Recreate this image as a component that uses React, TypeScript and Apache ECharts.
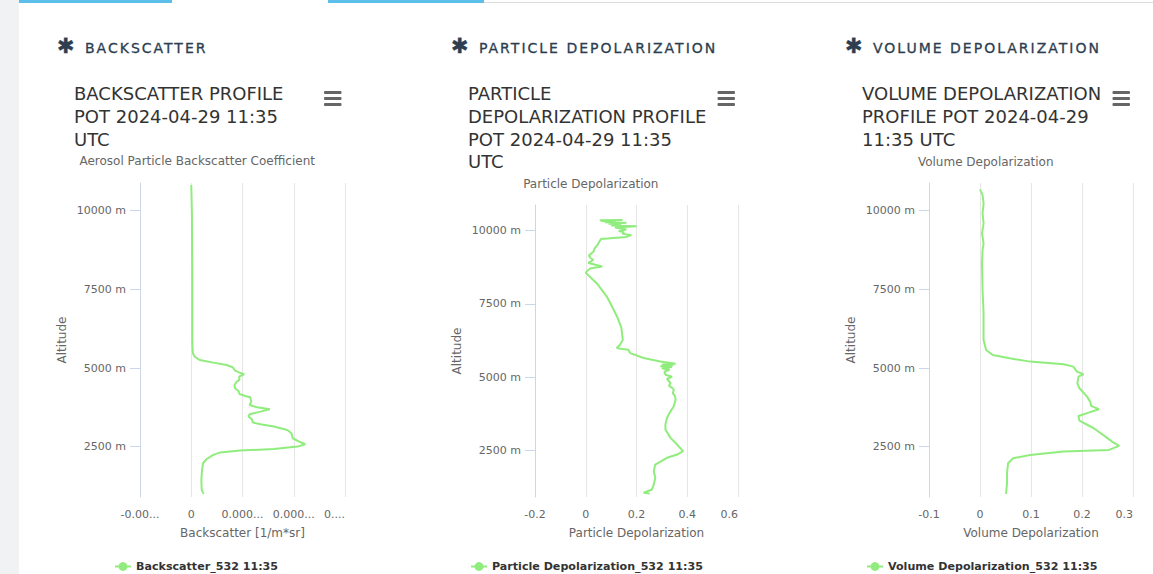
import React, { useEffect, useRef } from "react";
import * as echarts from "echarts";

// ---------- data ----------
const sectionHeaders = ["BACKSCATTER", "PARTICLE DEPOLARIZATION", "VOLUME DEPOLARIZATION"];
const chartTitles = [
  "BACKSCATTER PROFILE\nPOT 2024-04-29 11:35\nUTC",
  "PARTICLE\nDEPOLARIZATION PROFILE\nPOT 2024-04-29 11:35\nUTC",
  "VOLUME DEPOLARIZATION\nPROFILE POT 2024-04-29\n11:35 UTC",
];
const chartSubtitles = ["Aerosol Particle Backscatter Coefficient", "Particle Depolarization", "Volume Depolarization"];
const xAxisTitles = ["Backscatter [1/m*sr]", "Particle Depolarization", "Volume Depolarization"];
const seriesNames = ["Backscatter_532 11:35", "Particle Depolarization_532 11:35", "Volume Depolarization_532 11:35"];
const altitudeTicks = [2500, 5000, 7500, 10000];
const backscatterTickLabels = ["-0.00...", "0", "0.000...", "0.000...", "0...."];

const backscatterAlt = [10815, 9915, 7797, 5891, 5573, 5467, 5361, 5255, 5171, 5097, 5023, 4917, 4853, 4800, 4726, 4620, 4567, 4461, 4355, 4271, 4175, 4112, 4070, 3932, 3826, 3752, 3688, 3614, 3530, 3455, 3370, 3265, 3212, 3138, 3032, 2926, 2767, 2661, 2576, 2502, 2428, 2375, 2312, 2238, 2100, 1973, 1761, 1443, 1126, 1000];
const backscatterVal = [0.0e-6, 0.013e-6, 0.02e-6, 0.02e-6, 0.026e-6, 0.033e-6, 0.066e-6, 0.164e-6, 0.428e-6, 0.691e-6, 0.809e-6, 0.855e-6, 0.941e-6, 1.033e-6, 0.934e-6, 0.941e-6, 0.888e-6, 0.842e-6, 0.855e-6, 0.921e-6, 0.941e-6, 1.053e-6, 1.151e-6, 1.171e-6, 1.138e-6, 1.283e-6, 1.533e-6, 1.349e-6, 1.138e-6, 1.118e-6, 1.184e-6, 1.204e-6, 1.349e-6, 1.612e-6, 1.875e-6, 1.954e-6, 1.98e-6, 2.105e-6, 2.224e-6, 2.072e-6, 1.612e-6, 0.954e-6, 0.559e-6, 0.428e-6, 0.296e-6, 0.23e-6, 0.211e-6, 0.197e-6, 0.204e-6, 0.243e-6];

const particleAlt = [10360, 10370, 10330, 10320, 10290, 10270, 10240, 10220, 10180, 10150, 10110, 10080, 10040, 9990, 9960, 9900, 9850, 9790, 9720, 9650, 9500, 9400, 9280, 9150, 9060, 9000, 8900, 8780, 8720, 8660, 8560, 8200, 7750, 7300, 7070, 6700, 6500, 6270, 6103, 5990, 5960, 5932, 5819, 5649, 5533, 5455, 5430, 5400, 5370, 5340, 5300, 5250, 5180, 5080, 5010, 4933, 4796, 4700, 4650, 4568, 4450, 4350, 4227, 4100, 4000, 3828, 3603, 3374, 3204, 2921, 2692, 2464, 2351, 2239, 2010, 1782, 1557, 1328, 1158, 1045, 1021];
const particleVal = [0.055, 0.145, 0.06, 0.12, 0.075, 0.16, 0.09, 0.14, 0.1, 0.2, 0.115, 0.14, 0.16, 0.13, 0.15, 0.145, 0.18, 0.16, 0.06, 0.055, 0.045, 0.035, 0.03, 0.012, 0.02, 0.03, 0.01, 0.065, 0.02, 0.01, 0.0, 0.044, 0.083, 0.11, 0.123, 0.14, 0.143, 0.146, 0.135, 0.122, 0.145, 0.168, 0.175, 0.228, 0.294, 0.354, 0.3, 0.345, 0.294, 0.34, 0.3, 0.33, 0.31, 0.314, 0.34, 0.32, 0.334, 0.328, 0.338, 0.347, 0.343, 0.352, 0.354, 0.35, 0.347, 0.334, 0.32, 0.314, 0.314, 0.334, 0.36, 0.384, 0.36, 0.32, 0.274, 0.268, 0.274, 0.268, 0.261, 0.228, 0.252];

const volumeAlt = [10678, 10500, 10233, 9915, 9598, 9280, 8962, 8750, 8327, 7480, 6738, 5891, 5573, 5415, 5309, 5203, 5118, 5044, 4885, 4800, 4726, 4514, 4355, 4090, 3932, 3794, 3688, 3582, 3476, 3328, 3085, 2820, 2660, 2523, 2396, 2343, 2237, 2132, 1973, 1655, 1337, 1000];
const volumeVal = [0.0, 0.005, 0.007, 0.005, 0.007, 0.004, 0.007, 0.005, 0.004, 0.005, 0.007, 0.007, 0.012, 0.025, 0.058, 0.098, 0.164, 0.183, 0.19, 0.203, 0.193, 0.191, 0.195, 0.21, 0.216, 0.218, 0.233, 0.213, 0.193, 0.195, 0.223, 0.246, 0.259, 0.273, 0.253, 0.164, 0.098, 0.065, 0.055, 0.053, 0.053, 0.051];

// ---------- layout / style ----------
const FONT = '"DejaVu Sans", sans-serif';
const LINE_COLOR = "#90ed7d";
const grids = [
  { left: 140, top: 183, width: 205, height: 314 },
  { left: 535, top: 205, width: 203, height: 292 },
  { left: 929, top: 183, width: 204, height: 314 },
];
const xRanges = [
  { min: -1e-6, max: 3e-6, interval: 1e-6 },
  { min: -0.2, max: 0.6, interval: 0.2 },
  { min: -0.1, max: 0.3, interval: 0.1 },
];
const titleLefts = [74, 468, 862];
const subtitlePos = [
  { x: 197.2, y: 161 },
  { x: 590.8, y: 184 },
  { x: 985.7, y: 161.5 },
];
const menuLefts = [324, 717.5, 1112.5];
const legendLefts = [114, 470, 866];
const headerLefts = [57, 451, 845];

function buildOption() {
  const seriesData = [
    backscatterAlt.map((a, i) => [backscatterVal[i], a]),
    particleAlt.map((a, i) => [particleVal[i], a]),
    volumeAlt.map((a, i) => [volumeVal[i], a]),
  ];
  const graphic: any[] = [];
  chartTitles.forEach((t, i) => {
    graphic.push({
      type: "text",
      x: titleLefts[i],
      y: 82.5,
      silent: true,
      style: { text: t, font: `18px ${FONT}`, fill: "#333333", lineHeight: 22.6, align: "left", verticalAlign: "top" },
    });
    graphic.push({
      type: "text",
      x: subtitlePos[i].x,
      y: subtitlePos[i].y,
      silent: true,
      style: { text: chartSubtitles[i], font: `12px ${FONT}`, fill: "#666666", align: "center", verticalAlign: "middle" },
    });
    [91, 97, 103].forEach((yy) => {
      graphic.push({
        type: "rect",
        silent: true,
        shape: { x: menuLefts[i], y: yy, width: 17.5, height: 3, r: 1 },
        style: { fill: "#666666" },
      });
    });
  });

  return {
    animation: false,
    backgroundColor: "transparent",
    textStyle: { fontFamily: FONT },
    graphic,
    grid: grids.map((g) => ({ ...g, containLabel: false })),
    legend: seriesNames.map((n, i) => ({
      data: [n],
      left: legendLefts[i],
      top: 561,
      padding: 0,
      itemWidth: 16,
      itemHeight: 11,
      selectedMode: false,
      textStyle: { fontFamily: FONT, fontSize: 11.1, fontWeight: "bold", color: "#333333" },
    })),
    xAxis: xRanges.map((r, i) => ({
      type: "value",
      gridIndex: i,
      min: r.min,
      max: r.max,
      interval: r.interval,
      name: xAxisTitles[i],
      nameLocation: "middle",
      nameGap: 30,
      nameTextStyle: { fontFamily: FONT, fontSize: 12, color: "#666666" },
      axisLine: { show: false, onZero: false },
      axisTick: { show: false },
      splitLine: { show: true, lineStyle: { color: "#e6e6e6", width: 1 } },
      axisLabel: {
        fontFamily: FONT,
        fontSize: 11,
        color: "#666666",
        margin: 12,
        alignMaxLabel: "right",
        formatter:
          i === 0
            ? (v: number) => backscatterTickLabels[Math.round(v / 1e-6) + 1] ?? ""
            : (v: number) => String(Math.round(v * 10) / 10),
      },
    })),
    yAxis: grids.map((_, i) => ({
      type: "value",
      gridIndex: i,
      position: "left",
      min: 900,
      max: 10880,
      name: "Altitude",
      nameLocation: "middle",
      nameRotate: 90,
      nameGap: 72,
      nameTextStyle: { fontFamily: FONT, fontSize: 12, color: "#666666" },
      axisLine: { show: true, onZero: false, lineStyle: { color: "#ccd6eb", width: 1 } },
      axisTick: { show: true, length: 10, lineStyle: { color: "#ccd6eb" }, customValues: altitudeTicks },
      splitLine: { show: false },
      axisLabel: {
        fontFamily: FONT,
        fontSize: 11,
        color: "#666666",
        margin: 14,
        customValues: altitudeTicks,
        formatter: (v: number) => `${v} m`,
      },
    })),
    series: seriesNames.map((n, i) => ({
      type: "line",
      name: n,
      xAxisIndex: i,
      yAxisIndex: i,
      data: seriesData[i],
      showSymbol: false,
      symbol: "circle",
      symbolSize: 8,
      lineStyle: { width: 2, color: LINE_COLOR },
      itemStyle: { color: LINE_COLOR },
      silent: true,
    })),
  };
}

export default function App() {
  const ref = useRef<HTMLDivElement>(null);
  useEffect(() => {
    if (!ref.current) return;
    const chart = echarts.init(ref.current, null, { renderer: "svg" });
    chart.setOption(buildOption() as any);
    return () => chart.dispose();
  }, []);
  return (
    <div style={{ position: "absolute", left: 0, top: 0, width: 1153, height: 574, background: "#ffffff", overflow: "hidden" }}>
      <div style={{ position: "absolute", left: 0, top: 0, width: 19, height: 574, background: "#f1f2f4" }} />
      <div style={{ position: "absolute", left: 19, top: 0, width: 153, height: 3, background: "#5bbfea" }} />
      <div style={{ position: "absolute", left: 328, top: 0, width: 156, height: 3, background: "#5bbfea" }} />
      <div style={{ position: "absolute", left: 484, top: 2, width: 669, height: 1, background: "#dddddd" }} />
      <div ref={ref} style={{ position: "absolute", left: 0, top: 0, width: 1153, height: 574 }} />
      {sectionHeaders.map((h, i) => (
        <div
          key={h}
          style={{
            position: "absolute",
            left: headerLefts[i],
            top: 37,
            height: 18,
            lineHeight: "18px",
            whiteSpace: "nowrap",
            fontFamily: FONT,
            color: "#2c3e50",
            WebkitTextStroke: "0.3px #2c3e50",
          }}
        >
          <span style={{ fontSize: 21, fontWeight: "bold", display: "inline-block", width: 28 }}>✱</span>
          <span style={{ fontSize: 14, letterSpacing: "2px", fontWeight: "normal" }}>{h}</span>
        </div>
      ))}
    </div>
  );
}
